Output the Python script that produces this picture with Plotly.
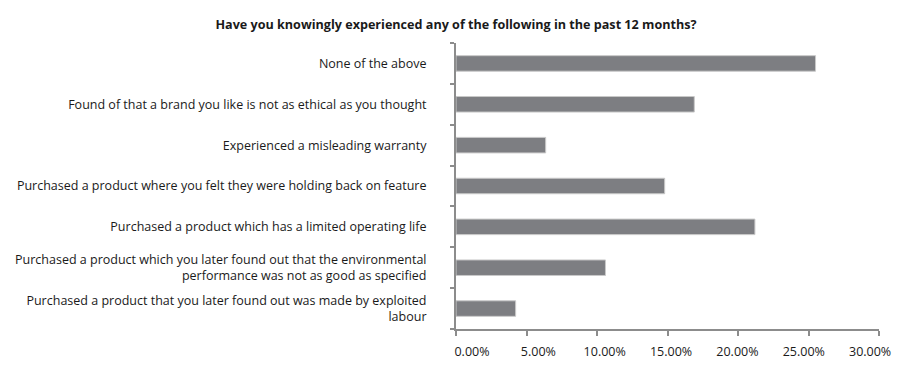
import plotly.graph_objects as go

categories = [
    "Purchased a product that you later found out was made by exploited<br>labour",
    "Purchased a product which you later found out that the environmental<br>performance was not as good as specified",
    "Purchased a product which has a limited operating life",
    "Purchased a product where you felt they were holding back on feature",
    "Experienced a misleading warranty",
    "Found of that a brand you like is not as ethical as you thought",
    "None of the above",
]
values = [0.0423, 0.106, 0.212, 0.148, 0.0636, 0.169, 0.255]
tick_vals = [0, 0.05, 0.10, 0.15, 0.20, 0.25, 0.30]
tick_text = ["0.00%", "5.00%", "10.00%", "15.00%", "20.00%", "25.00%", "30.00%"]
title_text = "Have you knowingly experienced any of the following in the past 12 months?"

FONT = "Open Sans"
AXIS_COL = "#8c8c8c"
TXT = "#1a1a1a"

fig = go.Figure()
fig.add_trace(go.Bar(
    y=categories, x=values, orientation="h",
    marker=dict(color="#7d7e82", line=dict(color="#c9c9c9", width=1)),
    width=0.38, showlegend=False, hoverinfo="x+y",
))
# empty trace so the label-only axis is drawn
fig.add_trace(go.Scatter(x=[], y=[], xaxis="x2", yaxis="y",
                         showlegend=False, hoverinfo="skip"))

fig.update_layout(
    width=924, height=370,
    paper_bgcolor="white", plot_bgcolor="white",
    margin=dict(l=448, r=53, t=35, b=49, autoexpand=False),
    title=dict(text="<b>" + title_text + "</b>", x=0.4848, xanchor="center",
               y=0.954, yanchor="middle",
               font=dict(family=FONT, size=12.6, color=TXT)),
    font=dict(family=FONT, size=12, color=TXT),
    xaxis=dict(
        range=[0, 0.30], tickvals=tick_vals, showticklabels=False,
        showgrid=False, zeroline=False, showline=True, linecolor=AXIS_COL,
        linewidth=2, ticks="outside", ticklen=5, tickwidth=1.5, tickcolor=AXIS_COL,
        automargin=False,
    ),
    # label-only axis: tick text placement as in the reference
    xaxis2=dict(
        overlaying="x", anchor="y", side="bottom",
        range=[-0.01206, 0.3067], tickvals=tick_vals, ticktext=tick_text,
        showgrid=False, zeroline=False, showline=False,
        ticks="outside", ticklen=5, tickcolor="rgba(0,0,0,0)",
        ticklabelstandoff=6, automargin=False,
        tickfont=dict(family=FONT, size=12.5, color=TXT),
    ),
    yaxis=dict(
        showgrid=False, zeroline=False, showline=True, linecolor=AXIS_COL,
        linewidth=2, ticks="outside", ticklen=4, tickwidth=1.5, tickcolor=AXIS_COL,
        tickson="boundaries", ticklabelstandoff=25, automargin=False,
        tickfont=dict(family=FONT, size=12.5, color=TXT),
        range=[-0.5, 6.5],
    ),
    bargap=0.62,
)

fig.write_html("out.html")
